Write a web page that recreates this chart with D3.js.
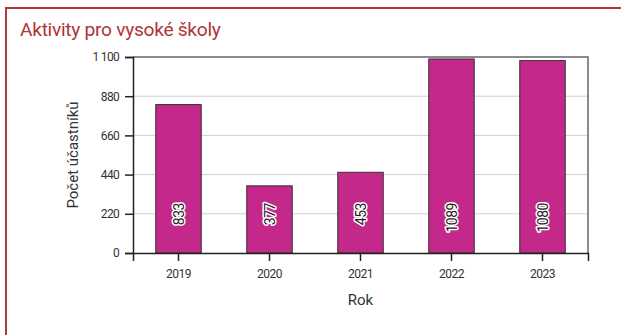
<!DOCTYPE html>
<html>
<head>
<meta charset="utf-8">
<script src="https://cdn.jsdelivr.net/npm/d3@7/dist/d3.min.js"></script>
<style>
  html, body { margin: 0; padding: 0; background: #fff; }
  svg { display: block; }
  text { font-family: Roboto, "DejaVu Sans Condensed", sans-serif; }
</style>
</head>
<body>
<svg id="chart" width="621" height="335"></svg>
<script>
// Participants per year
const years = ["2019", "2020", "2021", "2022", "2023"];
const participants = [833, 377, 453, 1089, 1080];
const yTicks = [0, 220, 440, 660, 880, 1100];

const W = 621, H = 335;
const margin = { left: 133, right: 33, top: 57, bottom: 82 };
const FONT = "Roboto, 'DejaVu Sans Condensed', sans-serif";
const svg = d3.select("#chart");

// Card frame: red top and left edges
svg.append("line").attr("x1", 5).attr("x2", W).attr("y1", 8).attr("y2", 8)
  .attr("stroke", "#b23a3b").attr("stroke-width", 2);
svg.append("line").attr("x1", 6).attr("x2", 6).attr("y1", 7).attr("y2", H)
  .attr("stroke", "#b23a3b").attr("stroke-width", 2);

svg.append("text").attr("x", 20).attr("y", 36)
  .attr("fill", "#ae3538").attr("font-size", 19.2)
  .attr("letter-spacing", -0.3)
  .text("Aktivity pro vysoké školy");

const x = d3.scaleBand().domain(years)
  .range([margin.left, W - margin.right])
  .paddingInner(0.5).paddingOuter(0.25);
const y = d3.scaleLinear().domain([0, 1100])
  .range([H - margin.bottom, margin.top]);

// Thousands separated by a space, as in Czech notation
const fmt = v => v >= 1000 ? d3.format(",")(v).replace(",", " ") : String(v);

// Gridlines
svg.append("g").selectAll("line").data(yTicks.filter(t => t > 0 && t < 1100)).join("line")
  .attr("x1", margin.left).attr("x2", W - margin.right)
  .attr("y1", d => y(d)).attr("y2", d => y(d))
  .attr("stroke", "#cfcfcf").attr("stroke-width", 1);

// Plot frame: top and right
svg.append("path")
  .attr("d", `M${margin.left},${y(1100)}H${W - margin.right}V${y(0)}`)
  .attr("fill", "none").attr("stroke", "#666").attr("stroke-width", 1.5);

// Bars
svg.append("g").selectAll("rect").data(participants).join("rect")
  .attr("x", (d, i) => x(years[i]))
  .attr("width", x.bandwidth())
  .attr("y", d => y(d))
  .attr("height", d => y(0) - y(d))
  .attr("fill", "#c4288a")
  .attr("stroke", "#333").attr("stroke-width", 1);

// Value labels inside bars, rotated with white halo
svg.append("g").selectAll("text").data(participants).join("text")
  .attr("transform", (d, i) => `translate(${x(years[i]) + x.bandwidth() / 2 + 5},${y(280)}) rotate(-90)`)
  .attr("text-anchor", "end")
  .attr("font-size", 14)
  .attr("letter-spacing", -0.5)
  .attr("fill", "#222")
  .attr("stroke", "#fff").attr("stroke-width", 3).attr("stroke-linejoin", "round")
  .attr("paint-order", "stroke")
  .text(d => d);

// Y axis
const yAxis = svg.append("g").attr("transform", `translate(${margin.left},0)`)
  .call(d3.axisLeft(y).tickValues(yTicks).tickSize(8).tickPadding(6).tickFormat(fmt));
yAxis.select(".domain").attr("stroke", "#222").attr("stroke-width", 1.5);
yAxis.selectAll(".tick line").attr("stroke", "#222").attr("stroke-width", 1.5);
yAxis.selectAll(".tick text").attr("font-size", 12).attr("fill", "#333")
  .attr("letter-spacing", -0.7).style("font-family", FONT);

// X axis
const xAxis = svg.append("g").attr("transform", `translate(0,${y(0)})`)
  .call(d3.axisBottom(x).tickSize(8).tickPadding(8));
xAxis.select(".domain").attr("stroke", "#222").attr("stroke-width", 1.5);
xAxis.selectAll(".tick line").attr("stroke", "#222").attr("stroke-width", 1.5);
xAxis.selectAll(".tick text").attr("font-size", 12).attr("fill", "#333")
  .attr("letter-spacing", -0.5).style("font-family", FONT);

// Axis titles
svg.append("text").attr("x", (margin.left + W - margin.right) / 2).attr("y", 305)
  .attr("text-anchor", "middle").attr("font-size", 15).attr("fill", "#333")
  .text("Rok");
svg.append("text")
  .attr("transform", `translate(78,${(y(0) + y(1100)) / 2}) rotate(-90)`)
  .attr("text-anchor", "middle").attr("font-size", 15).attr("fill", "#333")
  .text("Počet účastníků");
</script>
</body>
</html>
